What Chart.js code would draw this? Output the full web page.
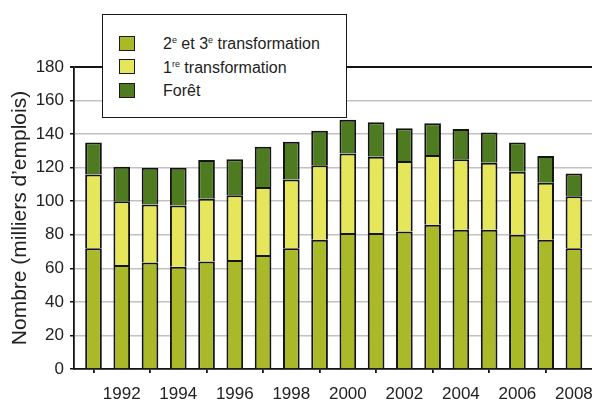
<!DOCTYPE html>
<html>
<head>
<meta charset="utf-8">
<script src="https://cdn.jsdelivr.net/npm/chart.js@4.4.1/dist/chart.umd.min.js"></script>
<style>
  html, body { margin: 0; padding: 0; background: #fff; }
  #wrap { position: relative; width: 592px; height: 402px; overflow: hidden; }
  #chart { position: absolute; left: 0; top: 0; }
  #legend {
    position: absolute; left: 102px; top: 14px; width: 243px; height: 102px;
    border: 1.5px solid #1a1a1a; background: #fff;
    font-family: "Liberation Sans", Arial, sans-serif; font-size: 16px; color: #1e1e1e;
  }
  .sw { position: absolute; left: 15.5px; width: 14px; height: 13px; border: 1.8px solid #1a1a1a; }
  .lbl { position: absolute; left: 60px; white-space: nowrap; line-height: 16px; }
  .lbl sup { font-size: 9px; line-height: 0; vertical-align: 6px; }
</style>
</head>
<body>
<div id="wrap">
  <canvas id="chart" width="592" height="402"></canvas>
  <div id="legend"></div>
</div>
<script>
// Emplois de la filière bois, en milliers
const years = [1991, 1992, 1993, 1994, 1995, 1996, 1997, 1998, 1999,
               2000, 2001, 2002, 2003, 2004, 2005, 2006, 2007, 2008];
const tickYears = [1992, 1994, 1996, 1998, 2000, 2002, 2004, 2006, 2008];
const yTicks = [0, 20, 40, 60, 80, 100, 120, 140, 160, 180];

const secondTroisieme = [72, 62, 63.5, 61, 64, 65, 68, 72, 77, 81, 81, 82, 86, 83, 83, 80, 77, 72];
const premiere        = [44, 38, 34.5, 36.5, 37.5, 38.5, 40.5, 41, 44.5, 47.5, 45.5, 42, 41.5, 42, 40, 37.5, 34, 31];
const foret           = [19, 20.5, 22, 22.5, 23, 21.5, 24, 22.5, 20.5, 20, 20.5, 19.5, 19, 18, 18, 17.5, 16, 13.5];

const seriesNames = ['2e et 3e transformation', '1re transformation', 'Forêt'];
const legendLabels = ['2<sup>e</sup> et 3<sup>e</sup> transformation', '1<sup>re</sup> transformation', 'Forêt'];
const seriesColors = ['#a9b928', '#e5e65a', '#4e7a20'];
const seriesValues = [secondTroisieme, premiere, foret];

// axis range along the year scale
const xMin = 1990.31;
const xMax = 2008.64;

const FONT = '"Liberation Sans", Arial, sans-serif';
const INK = '#141414';

// legend box
const legend = document.getElementById('legend');
legendLabels.forEach((html, i) => {
  const top = 20.5 + i * 23.5;
  const sw = document.createElement('div');
  sw.className = 'sw';
  sw.style.top = top + 'px';
  sw.style.background = seriesColors[i];
  legend.appendChild(sw);
  const lb = document.createElement('div');
  lb.className = 'lbl';
  lb.style.top = (top + 0.5) + 'px';
  lb.innerHTML = html;
  legend.appendChild(lb);
});

const datasets = seriesValues.map((vals, i) => ({
  label: seriesNames[i],
  data: years.map((yr, j) => ({ x: yr, y: vals[j] })),
  backgroundColor: seriesColors[i],
  borderColor: INK,
  borderWidth: 2,
  barPercentage: 0.59,
  categoryPercentage: 1
}));

new Chart(document.getElementById('chart'), {
  type: 'bar',
  data: { datasets },
  options: {
    responsive: false,
    animation: false,
    devicePixelRatio: 1,
    layout: { padding: { top: 67, right: 0, left: 0, bottom: 0 } },
    plugins: { legend: { display: false }, tooltip: { enabled: false } },
    scales: {
      x: {
        type: 'linear',
        min: xMin,
        max: xMax,
        stacked: true,
        offset: false,
        afterBuildTicks: s => { s.ticks = tickYears.map(v => ({ value: v })); },
        afterFit: s => { s.height = 33; s.paddingLeft = 0; s.paddingRight = 0; },
        grid: { drawOnChartArea: false, drawTicks: true, tickLength: 4, tickColor: INK, lineWidth: 1.8 },
        border: { color: INK, width: 1.8 },
        ticks: {
          font: { family: FONT, size: 17 }, color: '#222', padding: 11,
          autoSkip: false, maxRotation: 0, callback: v => String(v)
        }
      },
      y: {
        type: 'linear',
        min: 0,
        max: 180,
        stacked: true,
        afterBuildTicks: s => { s.ticks = yTicks.map(v => ({ value: v })); },
        afterFit: s => { s.width = 74; s.paddingTop = 0; s.paddingBottom = 0; },
        grid: {
          color: c => (c.tick && c.tick.value === 180) ? INK : '#c6bfc3',
          lineWidth: c => (c.tick && c.tick.value === 180) ? 2 : 1.5,
          tickColor: INK,
          tickLength: 4,
          drawTicks: true
        },
        border: { color: INK, width: 1.8 },
        ticks: { font: { family: FONT, size: 17 }, color: '#222', padding: 6 },
        title: {
          display: true,
          text: 'Nombre (milliers d’emplois)',
          font: { family: FONT, size: 21 },
          color: '#222',
          padding: { top: 8, bottom: 0 }
        }
      }
    }
  }
});
</script>
</body>
</html>
